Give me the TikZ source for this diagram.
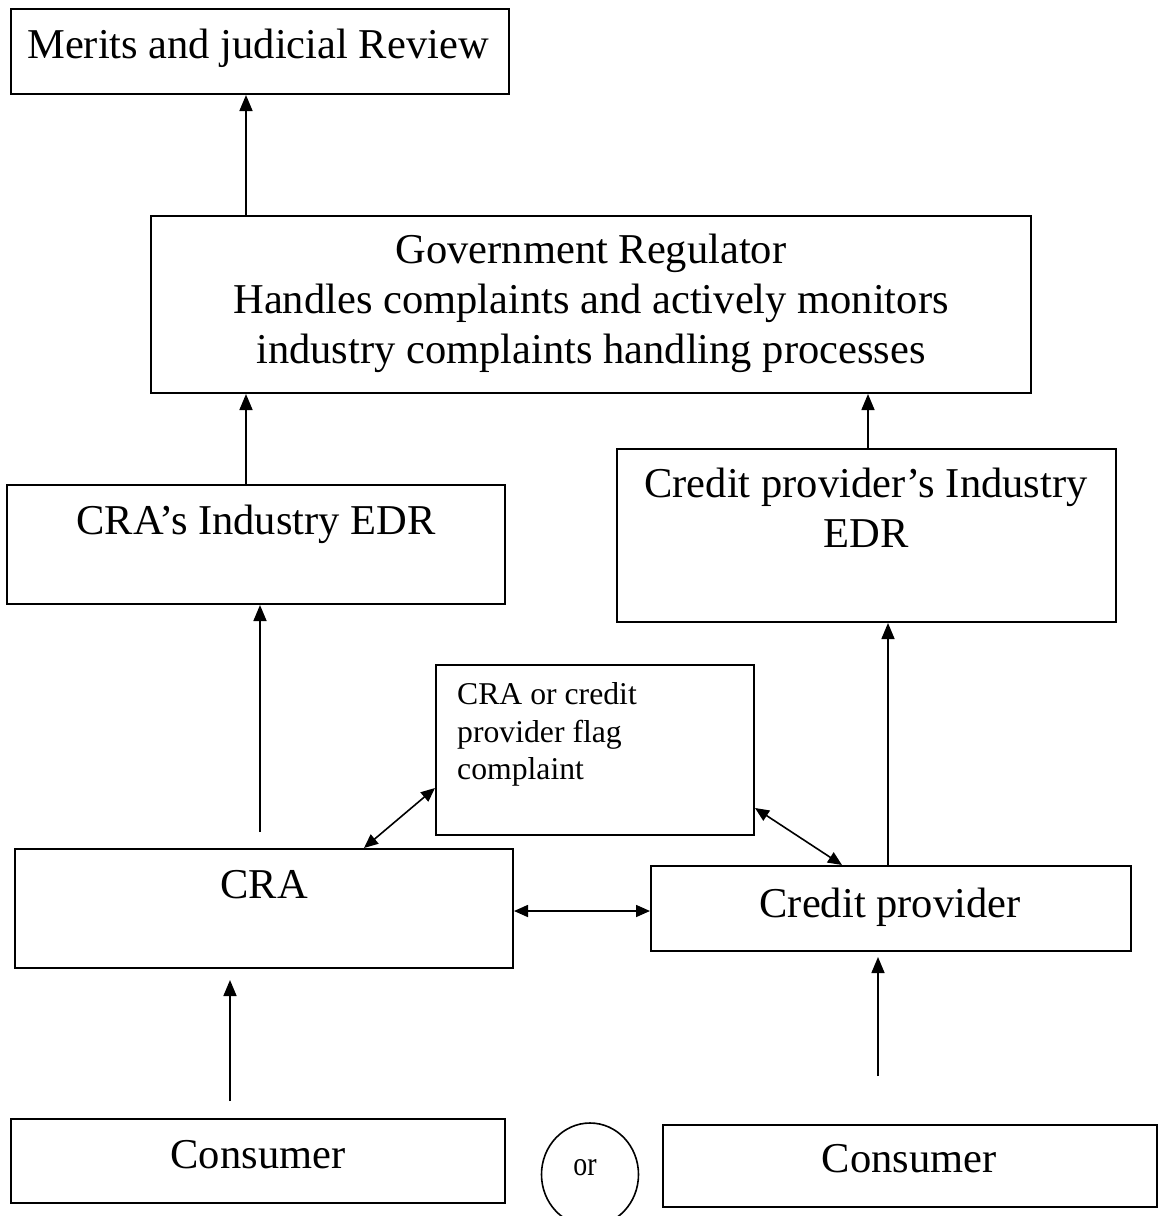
\documentclass[tikz,border=0pt]{standalone}
\usepackage{fontspec}
\setmainfont{Liberation Serif}
\usetikzlibrary{arrows.meta,shapes.geometric}
\newcommand\diabox[5]{\node[box, minimum width={#4-#2}, minimum height={#5-#3}] (#1) at ({(#2+#4)/2},{(#3+#5)/2}) {};}
\begin{document}
\begin{tikzpicture}[x=1pt,y=-1pt,
  box/.style={draw, line width=2pt, rectangle, inner sep=0pt},
  txt/.style={inner sep=0pt, anchor=base, font=\fontsize{42.5}{50}\selectfont},
  smalltxt/.style={inner sep=0pt, anchor=base west, font=\fontsize{31.7}{37}\selectfont},
  ortxt/.style={inner sep=0pt, anchor=base, font=\fontsize{34}{38}\selectfont},
  arr/.style={line width=1.6pt, -{Triangle[length=16pt,width=13pt]}},
  darr/.style={line width=1.6pt, {Triangle[length=14pt,width=12pt]}-{Triangle[length=14pt,width=12pt]}}]
\useasboundingbox (0,0) rectangle (1160,1216);
% boxes
\diabox{merits}{11}{9}{509}{94}
\diabox{gov}{151}{216}{1031}{393}
\diabox{craedr}{7}{485}{505}{604}
\diabox{cpedr}{617}{449}{1116}{622}
\diabox{flag}{436}{665}{754}{835}
\diabox{cra}{15}{849}{513}{968}
\diabox{cp}{651}{866}{1131}{951}
\diabox{consL}{11}{1119}{505}{1203}
\diabox{consR}{663}{1125}{1157}{1207}
\node[draw, ellipse, line width=1.6pt, minimum width=97pt, minimum height=103pt, inner sep=0pt] (orc) at (590,1174.5) {};
% texts
\node[txt] (tmerits) at (258,58) {Merits and judicial Review};
\node[txt] (tgov1) at (591,263) {Government Regulator};
\node[txt] (tgov2) at (591,313) {Handles complaints and actively monitors};
\node[txt] (tgov3) at (591,363) {industry complaints handling processes};
\node[txt] (tcraedr) at (256,534) {CRA’s Industry EDR};
\node[txt] (tcpedr1) at (866,497) {Credit provider’s Industry};
\node[txt] (tcpedr2) at (866,547) {EDR};
\node[smalltxt] (tflag1) at (457,704) {CRA or credit};
\node[smalltxt] (tflag2) at (457,742) {provider flag};
\node[smalltxt] (tflag3) at (457,779) {complaint};
\node[txt] (tcra) at (264,898) {CRA};
\node[txt] (tcp) at (890,917) {Credit provider};
\node[txt] (tconsL) at (258,1168) {Consumer};
\node[txt] (tconsR) at (909,1172) {Consumer};
\node[ortxt] (tor) at (585,1175) {\scalebox{0.82}[1]{or}};
% connector helper coordinates
\coordinate (xa) at (246,0);
\coordinate (xb) at (868,0);
\coordinate (xc) at (888,0);
\coordinate (s1) at (260,832);
\coordinate (s2) at (230,1101);
\coordinate (t2) at (230,980);
\coordinate (s3) at (878,1076);
\coordinate (t3) at (878,957);
\coordinate (d1) at (364,0);
\coordinate (d2) at (0,788);
\coordinate (d3) at (0,808);
\coordinate (d4) at (842,0);
\coordinate (d5) at (0,911);
% connectors
\draw[arr] (xa |- gov.north) -- (xa |- merits.south);
\draw[arr] (xa |- craedr.north) -- (xa |- gov.south);
\draw[arr] (xb |- cpedr.north) -- (xb |- gov.south);
\draw[arr] (s1) -- (s1 |- craedr.south);
\draw[arr] (xc |- cp.north) -- (xc |- cpedr.south);
\draw[arr] (s2) -- (t2);
\draw[arr] (s3) -- (t3);
\draw[darr] (d1 |- cra.north) -- (flag.west |- d2);
\draw[darr] (flag.east |- d3) -- (d4 |- cp.north);
\draw[darr] (cra.east |- d5) -- (cp.west |- d5);
\end{tikzpicture}
\end{document}
